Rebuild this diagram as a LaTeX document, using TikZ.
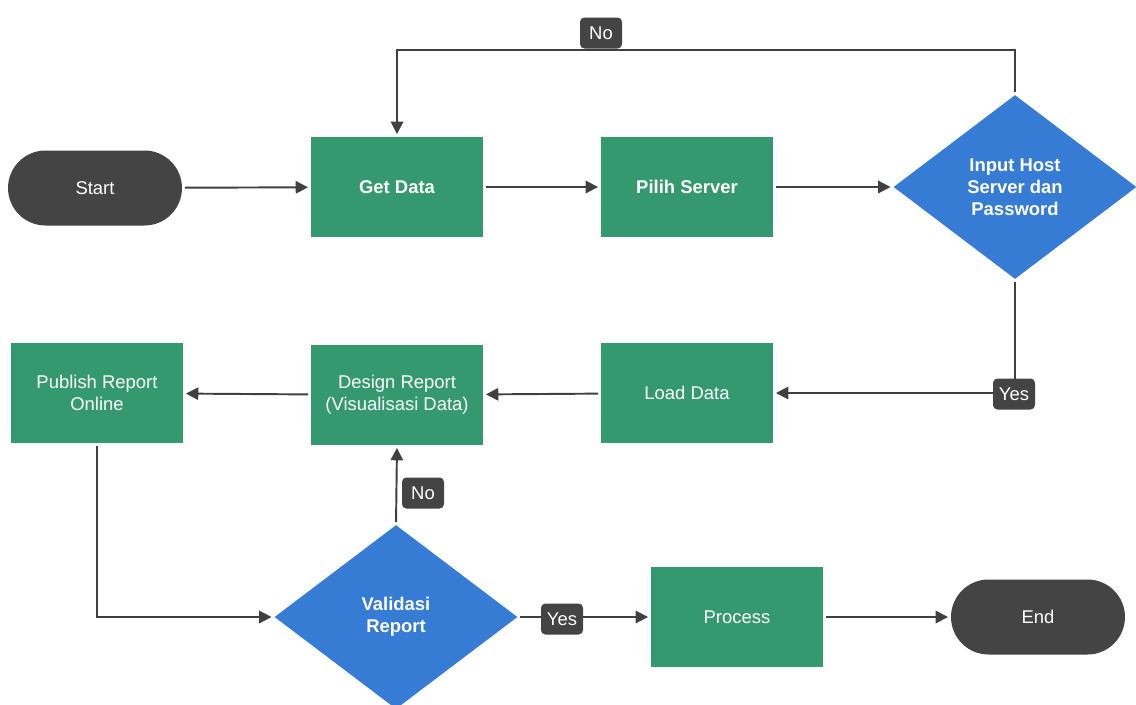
\documentclass[tikz,border=0pt]{standalone}
\usepackage{fontspec}
\setmainfont{Liberation Sans}
\usetikzlibrary{shapes.geometric,arrows.meta}
\definecolor{boxgreen}{RGB}{52,153,111}
\definecolor{diablue}{RGB}{54,124,213}
\definecolor{termgray}{RGB}{68,68,68}
\definecolor{linegray}{RGB}{64,64,64}
\tikzset{
  process/.style={rectangle, fill=boxgreen, text=white, minimum width=3.44cm, minimum height=2cm, align=center, font=\fontsize{10.5}{12.5}\selectfont},
  decision/.style={diamond, fill=diablue, text=white, minimum width=4.86cm, minimum height=3.68cm, inner sep=0pt, align=center, font=\fontsize{10.5}{12.5}\selectfont\bfseries},
  terminal/.style={rectangle, rounded corners=0.75cm, fill=termgray, text=white, minimum width=3.48cm, minimum height=1.5cm, font=\fontsize{10.5}{12.5}\selectfont},
  tag/.style={rectangle, rounded corners=2.5pt, fill=termgray, text=white, minimum width=0.84cm, minimum height=0.62cm, inner sep=2pt, font=\fontsize{10.5}{12.5}\selectfont},
  arr/.style={draw=linegray, line width=1.1pt, shorten >=1.5pt, shorten <=1.5pt, -{Triangle[length=7pt,width=7pt]}}
}
\begin{document}
\begin{tikzpicture}[x=0.02cm,y=-0.02cm]
\useasboundingbox[fill=white] (0,0) rectangle (1136,704);
% first row
\node[terminal] (start) at (95,188) {Start};
\node[process] (getdata) at (397,187) {\bfseries Get Data};
\node[process] (pilih) at (687,187) {\bfseries Pilih Server};
\node[decision] (input) at (1015,187) {Input Host\\Server dan\\Password};
% second row
\node[process] (load) at (687,393) {Load Data};
\node[process] (design) at (397,395) {Design Report\\(Visualisasi Data)};
\node[process] (publish) at (97,393) {Publish Report\\Online};
% third row
\node[decision] (valid) at (396,617) {Validasi\\Report};
\node[process] (proc) at (737,617) {Process};
\node[terminal] (end) at (1038,617) {End};

\draw[arr] (start) -- (getdata);
\draw[arr] (getdata) -- (pilih);
\draw[arr] (pilih) -- (input);
\draw[arr] (input.north) -- ++(0,-45) -| (getdata.north);
\draw[arr] (input.south) |- (load.east);
\draw[arr] (load) -- (design);
\draw[arr] (design) -- (publish);
\draw[arr] (publish.south) |- (valid.west);
\draw[arr] (valid.north) -- (design.south);
\draw[arr] (valid.east) -- (proc.west);
\draw[arr] (proc) -- (end);

\node[tag] (no1) at (601,33) {No};
\node[tag] (yes1) at (1014,394) {Yes};
\node[tag] (no2) at (423,493) {No};
\node[tag] (yes2) at (562,619) {Yes};
\end{tikzpicture}
\end{document}
